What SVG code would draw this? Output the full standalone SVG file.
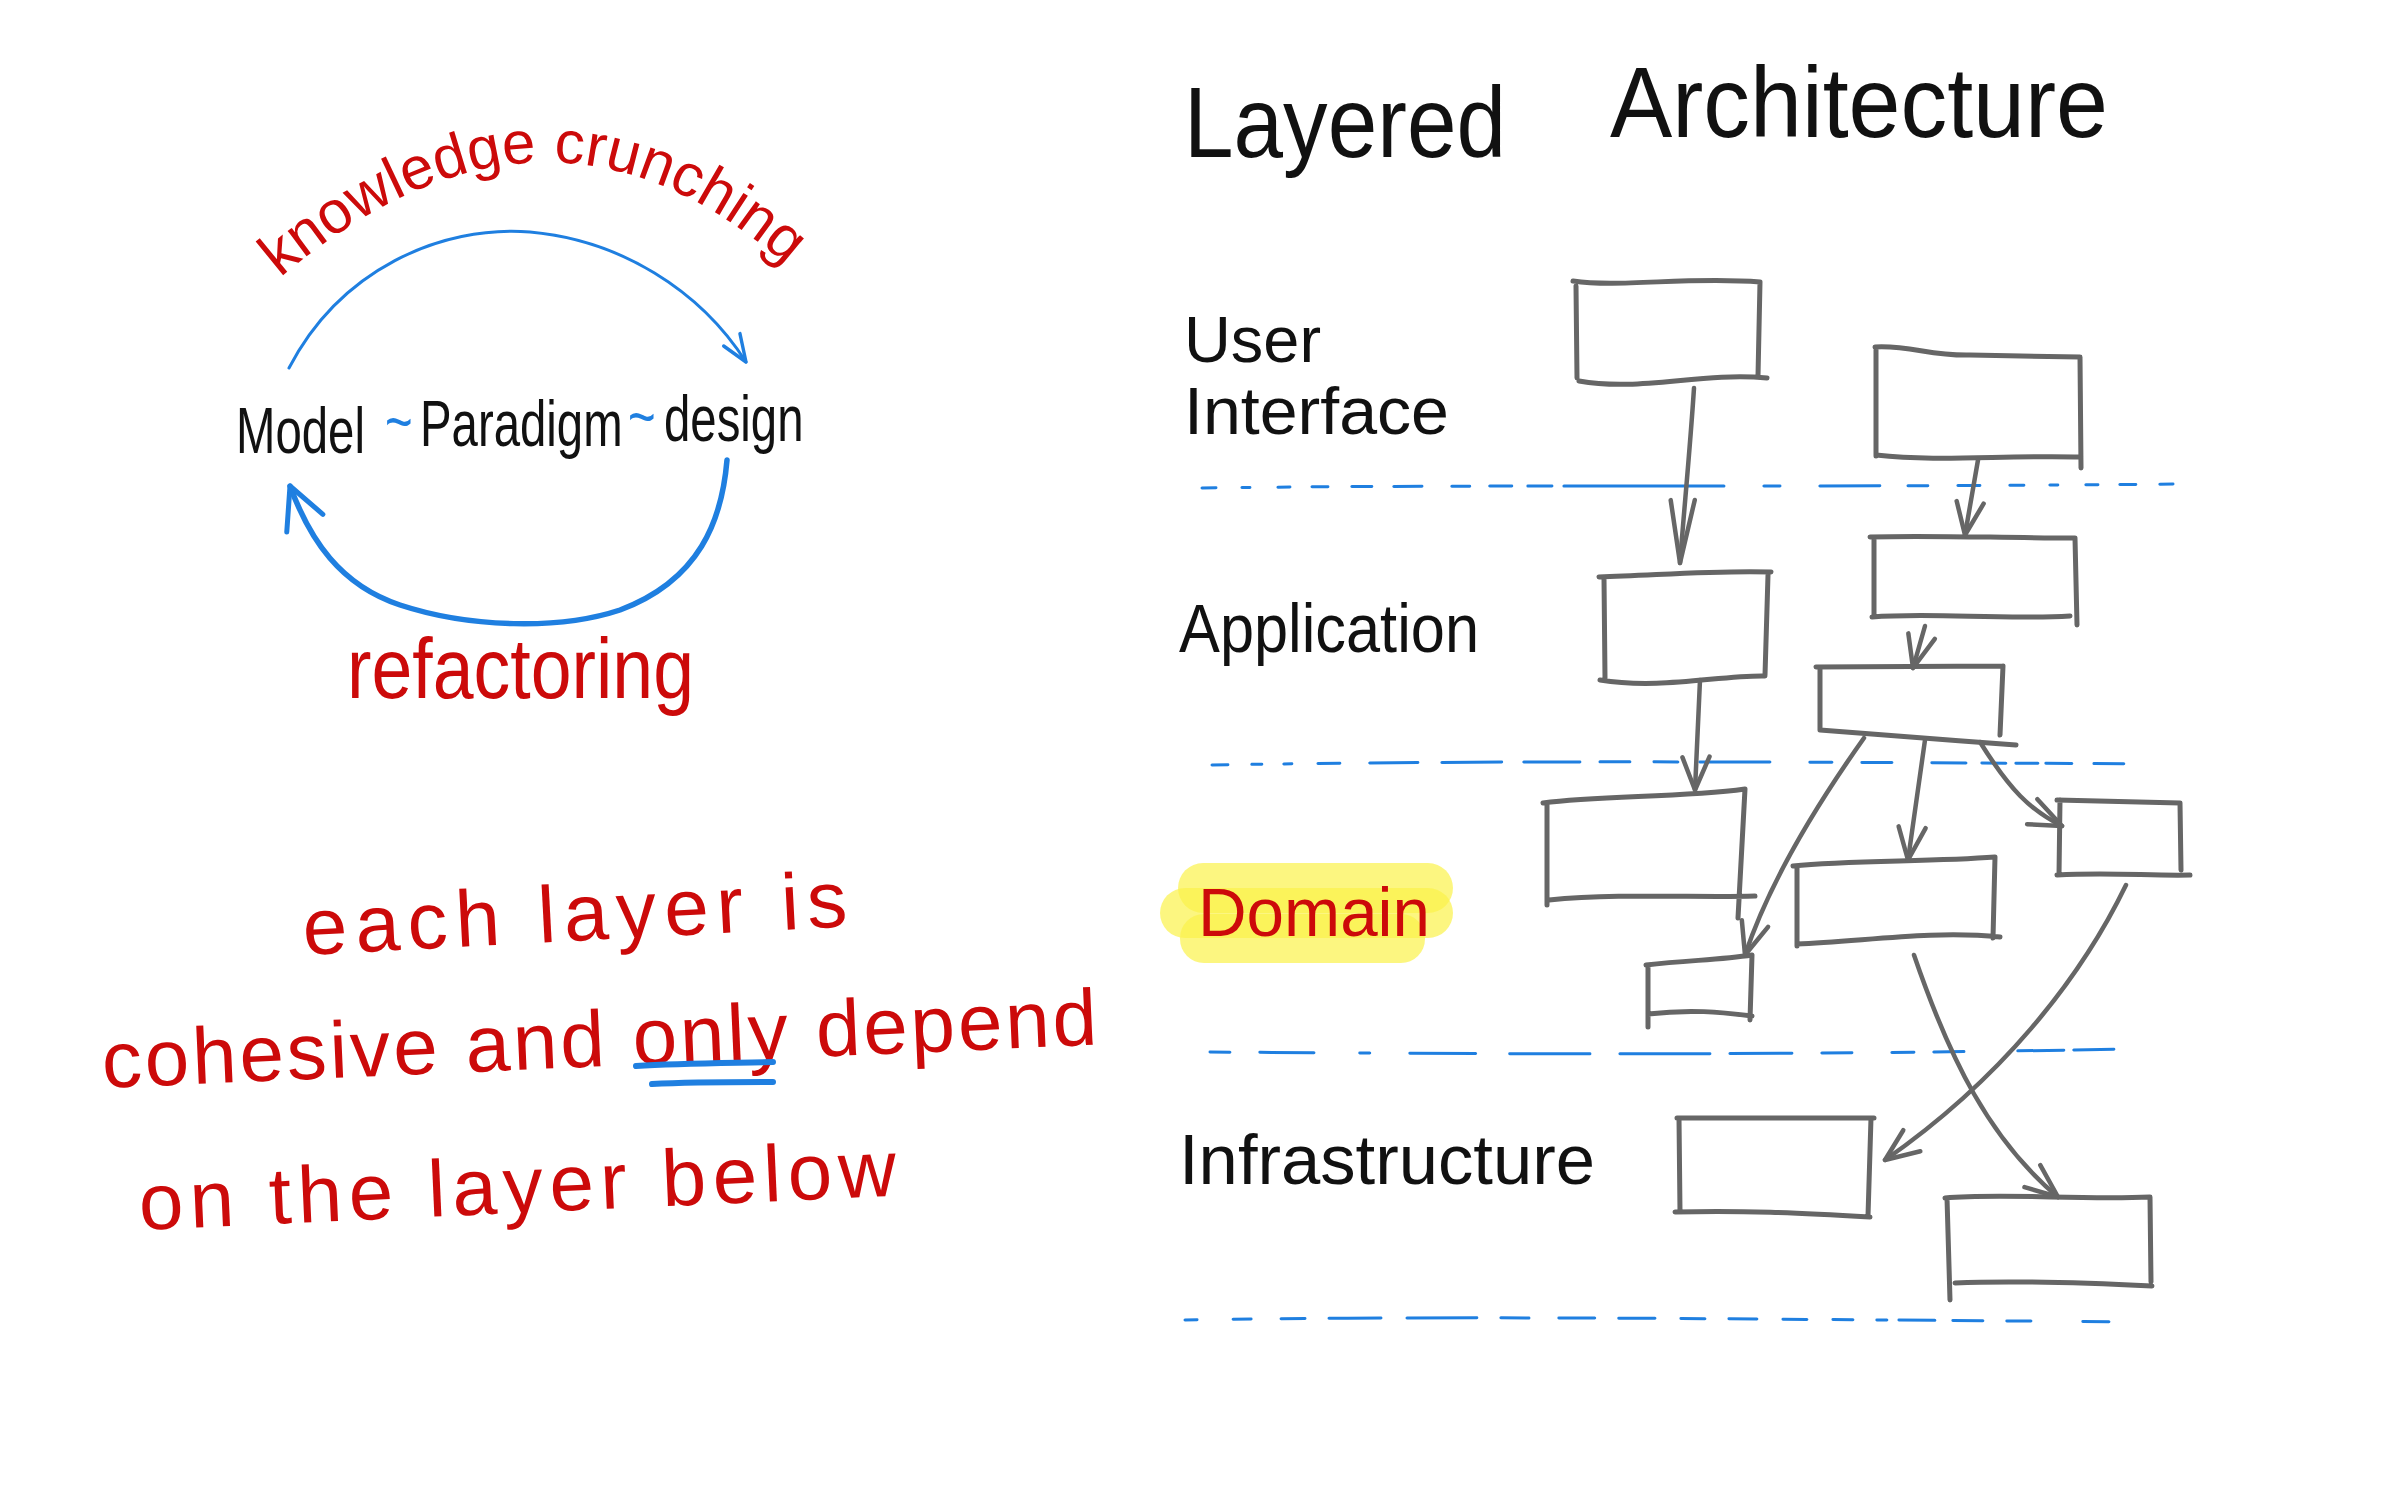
<svg xmlns="http://www.w3.org/2000/svg" width="2386" height="1491" viewBox="0 0 2386 1491">
  <style>
    .hand { font-family: "Liberation Sans", Arial, sans-serif; }
    .black { fill: #111111; }
    .red { fill: #cc0a0a; }
    .blueT { fill: #1f7fe0; }
    .box { fill: none; stroke: #666666; stroke-width: 5; stroke-linecap: round; stroke-linejoin: round; }
    .conn { fill: none; stroke: #666666; stroke-width: 4.5; stroke-linecap: round; }
    .sep { fill: none; stroke: #1f7fe0; stroke-width: 3; stroke-linecap: round; }
    .cycle { fill: none; stroke: #1f7fe0; stroke-linecap: round; }
    .hl { fill: #fbf24a; opacity: 0.7; }
    .mp { font-size: 64px; }
  </style>
  <defs>
    <marker id="ah" viewBox="0 0 40 40" refX="37" refY="20" markerWidth="40" markerHeight="40" markerUnits="userSpaceOnUse" orient="auto">
      <path d="M3,7 L37,20 L5,34" fill="none" stroke="#666666" stroke-width="4.5" stroke-linecap="round" stroke-linejoin="round"/>
    </marker>
    <marker id="ahLong" viewBox="0 0 70 40" refX="67" refY="20" markerWidth="70" markerHeight="40" markerUnits="userSpaceOnUse" orient="auto">
      <path d="M3,10 L67,20 L5,34" fill="none" stroke="#666666" stroke-width="4.5" stroke-linecap="round" stroke-linejoin="round"/>
    </marker>
    <marker id="bh" viewBox="0 0 40 40" refX="37" refY="20" markerWidth="34" markerHeight="34" markerUnits="userSpaceOnUse" orient="auto">
      <path d="M5,8 L37,20 L7,32" fill="none" stroke="#1f7fe0" stroke-width="4" stroke-linecap="round" stroke-linejoin="round"/>
    </marker>
    <marker id="bhBig" viewBox="0 0 50 50" refX="46" refY="25" markerWidth="50" markerHeight="50" markerUnits="userSpaceOnUse" orient="auto">
      <path d="M4,6 L46,25 L8,46" fill="none" stroke="#1f7fe0" stroke-width="5" stroke-linecap="round" stroke-linejoin="round"/>
    </marker>
  </defs>
  <rect width="2386" height="1491" fill="#ffffff"/>

  <!-- Left: knowledge crunching cycle -->
  <g id="cycle">
    <path id="kcPath" d="M280,278 Q560,40 815,292" fill="none" stroke="none"/>
    <text class="hand red" font-size="60"><textPath href="#kcPath" startOffset="0">knowledge crunching</textPath></text>
    <path class="cycle" stroke-width="3" d="M289,368 C340,270 440,225 530,232 C620,240 700,290 746,362" marker-end="url(#bh)"/>
    <path class="cycle" stroke-width="5.5" d="M727,460 C722,520 700,580 620,610 C560,630 470,628 400,605 C340,585 310,540 290,486" marker-end="url(#bhBig)"/>
    <text class="hand black mp" x="0" y="0" transform="translate(236,453) scale(0.74,1)">Model</text>
    <text class="hand blueT mp" x="0" y="0" transform="translate(385,444) scale(0.74,1)">~</text>
    <text class="hand black mp" x="0" y="0" transform="translate(420,446) scale(0.74,1)">Paradigm</text>
    <text class="hand blueT mp" x="0" y="0" transform="translate(628,439) scale(0.74,1)">~</text>
    <text class="hand black mp" x="0" y="0" transform="translate(664,441) scale(0.74,1)">design</text>
    <text class="hand red" x="347" y="698" font-size="86" textLength="347" lengthAdjust="spacingAndGlyphs">refactoring</text>
  </g>

  <!-- Left: statement -->
  <g id="statement">
    <text class="hand red" x="304" y="955" font-size="80" textLength="545" lengthAdjust="spacing" transform="rotate(-3 304 955)">each layer is</text>
    <text class="hand red" x="103" y="1088" font-size="80" textLength="996" lengthAdjust="spacing" transform="rotate(-2.5 103 1088)">cohesive and only depend</text>
    <text class="hand red" x="140" y="1230" font-size="80" textLength="758" lengthAdjust="spacing" transform="rotate(-2.6 140 1230)">on the layer below</text>
    <path d="M636,1066 C680,1063 730,1063 773,1062 M652,1084 C690,1082 735,1082 773,1082" fill="none" stroke="#1f7fe0" stroke-width="6" stroke-linecap="round"/>
  </g>

  <!-- Title -->
  <g id="title">
    <text class="hand black" x="1184" y="157" font-size="100" textLength="322" lengthAdjust="spacingAndGlyphs">Layered</text>
    <text class="hand black" x="1610" y="137" font-size="100" textLength="498" lengthAdjust="spacingAndGlyphs">Architecture</text>
  </g>

  <!-- Layer labels -->
  <g id="label-ui">
    <text class="hand black" x="1184" y="362" font-size="64" textLength="137" lengthAdjust="spacingAndGlyphs">User</text>
    <text class="hand black" x="1184" y="434" font-size="66" textLength="265" lengthAdjust="spacingAndGlyphs">Interface</text>
  </g>
  <g id="label-application">
    <text class="hand black" x="1179" y="652" font-size="68" textLength="300" lengthAdjust="spacingAndGlyphs">Application</text>
  </g>
  <g id="label-domain">
    <rect class="hl" x="1178" y="863" width="275" height="50" rx="25"/>
    <rect class="hl" x="1160" y="888" width="293" height="50" rx="25"/>
    <rect class="hl" x="1180" y="914" width="245" height="49" rx="24"/>
    <text class="hand red" x="1198" y="936" font-size="68" textLength="232" lengthAdjust="spacingAndGlyphs">Domain</text>
  </g>
  <g id="label-infrastructure">
    <text class="hand black" x="1179" y="1184" font-size="70" textLength="416" lengthAdjust="spacingAndGlyphs">Infrastructure</text>
  </g>

  <!-- Layer separators -->
  <g id="separators">
    <path class="sep" stroke-dasharray="14 26 8 28 12 22 16 24 20 22 28 30 18 20 22 16 24 12 160 40 16 40 60 28 20 30 22 30" d="M1202,488 C1500,484 1800,488 2173,484"/>
    <path class="sep" stroke-dasharray="16 24 10 22 8 26 22 30 48 24 60 22 56 20 30 24 24 22 70 40 22 30 30 40 34" d="M1212,765 C1500,760 1800,762 2162,764"/>
    <path class="sep" stroke-dasharray="20 30 54 46 10 40 66 34 80 30 90 20 62 30 30 40 22" d="M1210,1052 C1500,1054 1800,1056 2175,1048"/>
    <path class="sep" stroke-dasharray="12 36 18 30 24 24 52 26 70 24 28 30 36 24 36 26 24 24 28 26 24 26 20 24 10" d="M1185,1320 C1500,1315 1800,1320 2172,1322"/>
  </g>

  <!-- Nodes (boxes) -->
  <g id="ui-box-1"><path class="box" d="M1573,281 C1620,288 1690,276 1760,282 M1760,282 L1758,376 M1576,286 L1577,378 M1579,381 C1640,392 1700,372 1767,378"/></g>
  <g id="ui-box-2"><path class="box" d="M1875,347 C1910,345 1930,356 1970,355 L2080,357 M2080,357 L2081,468 M1876,350 L1876,456 M1876,455 C1940,462 2000,455 2081,457"/></g>
  <g id="app-box-1"><path class="box" d="M1599,577 C1660,575 1720,570 1771,572 M1768,575 L1765,675 M1604,578 L1605,678 M1600,680 C1660,690 1720,675 1765,676"/></g>
  <g id="app-box-2"><path class="box" d="M1870,537 C1930,535 2000,538 2075,538 M2075,538 L2077,625 M1874,540 L1874,617 M1872,617 C1930,612 2000,620 2070,616"/></g>
  <g id="app-box-3"><path class="box" d="M1816,667 L2003,666 M2003,666 L2000,735 M1820,668 L1820,730 M1820,730 C1880,735 1950,740 2016,745"/></g>
  <g id="domain-box-1"><path class="box" d="M1543,803 C1600,795 1680,798 1745,789 M1745,789 L1738,918 M1547,805 L1547,905 M1549,900 C1620,893 1700,898 1755,896"/></g>
  <g id="domain-box-2"><path class="box" d="M1793,866 C1850,860 1930,862 1995,857 M1995,857 L1993,938 M1797,866 L1797,946 M1797,944 C1860,942 1930,930 2000,937"/></g>
  <g id="domain-box-3"><path class="box" d="M2057,800 L2180,803 M2180,803 L2181,870 M2060,800 L2059,875 M2057,875 C2110,872 2150,876 2190,875"/></g>
  <g id="domain-box-4"><path class="box" d="M1646,965 C1690,960 1720,960 1752,955 M1752,955 L1750,1020 M1648,965 L1648,1027 M1648,1014 C1690,1009 1720,1012 1752,1016"/></g>
  <g id="infra-box-1"><path class="box" d="M1677,1118 L1874,1118 M1871,1118 L1868,1216 M1679,1118 L1680,1212 M1675,1212 C1740,1210 1800,1213 1870,1217"/></g>
  <g id="infra-box-2"><path class="box" d="M1945,1198 C2000,1193 2080,1200 2150,1197 M2150,1197 L2151,1282 M1947,1198 L1950,1300 M1955,1283 C2020,1280 2090,1283 2152,1286"/></g>

  <!-- Connectors -->
  <g id="connectors">
    <path class="conn" d="M1694,388 C1690,450 1684,510 1680,563" marker-end="url(#ahLong)"/>
    <path class="conn" d="M1978,460 L1965,535" marker-end="url(#ah)"/>
    <path class="conn" d="M1925,626 L1913,668" marker-end="url(#ah)"/>
    <path class="conn" d="M1700,680 L1695,790" marker-end="url(#ah)"/>
    <path class="conn" d="M1864,738 C1820,800 1770,880 1745,955" marker-end="url(#ah)"/>
    <path class="conn" d="M1925,740 L1908,860" marker-end="url(#ah)"/>
    <path class="conn" d="M1980,742 C2010,790 2030,810 2062,826" marker-end="url(#ah)"/>
    <path class="conn" d="M1914,955 C1950,1060 1990,1140 2058,1197" marker-end="url(#ah)"/>
    <path class="conn" d="M2126,885 C2080,980 2000,1080 1885,1160" marker-end="url(#ah)"/>
  </g>
</svg>
